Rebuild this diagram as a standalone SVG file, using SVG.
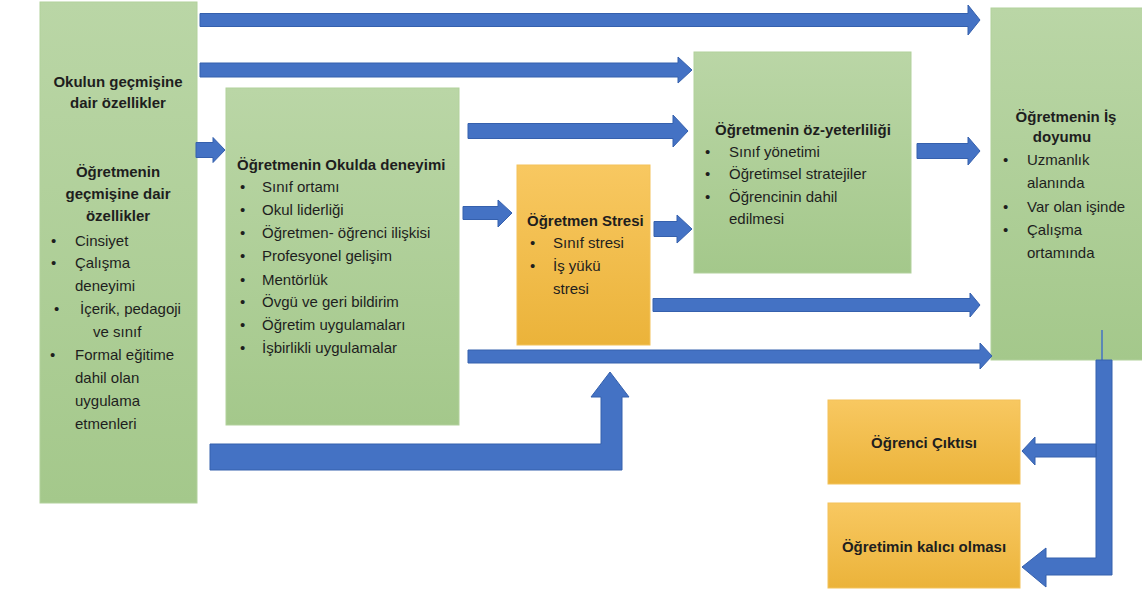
<svg xmlns="http://www.w3.org/2000/svg" width="1142" height="594" viewBox="0 0 1142 594">
  <defs>
    <linearGradient id="green" x1="0" y1="0" x2="0" y2="1">
      <stop offset="0" stop-color="#bad6a6"/>
      <stop offset="1" stop-color="#a4c88b"/>
    </linearGradient>
    <linearGradient id="orange" x1="0" y1="0" x2="0" y2="1">
      <stop offset="0" stop-color="#f8c861"/>
      <stop offset="1" stop-color="#ebb33a"/>
    </linearGradient>
    <style>
      .g { fill: url(#green); stroke: #b2d19c; stroke-width: 1; }
      .o { fill: url(#orange); stroke: #f3c25a; stroke-width: 1; }
      .arr { fill: #4472c4; stroke: #3560ad; stroke-width: 1; stroke-linejoin: miter; }
      text { font-family: "Liberation Sans", Arial, sans-serif; font-size: 15px; fill: #1e1e1e; }
      .t { font-weight: bold; }
      .c { text-anchor: middle; }
    </style>
  </defs>
  <rect width="1142" height="594" fill="#ffffff"/>

  <!-- background characteristics -->
  <g id="node-background">
    <rect class="g" x="40" y="2" width="157" height="501"/>
    <text class="t c" x="118" y="87">Okulun geçmişine</text>
    <text class="t c" x="118" y="108">dair özellikler</text>
    <text class="t c" x="118" y="177">Öğretmenin</text>
    <text class="t c" x="118" y="199">geçmişine dair</text>
    <text class="t c" x="118" y="221">özellikler</text>
    <text x="51" y="246">•</text><text x="75" y="246">Cinsiyet</text>
    <text x="51" y="268">•</text><text x="75" y="268">Çalışma</text>
    <text x="75" y="291">deneyimi</text>
    <text x="54" y="314">•</text><text x="80" y="314">İçerik, pedagoji</text>
    <text x="93" y="337">ve sınıf</text>
    <text x="50" y="360">•</text><text x="75" y="360">Formal eğitime</text>
    <text x="75" y="383">dahil olan</text>
    <text x="75" y="406">uygulama</text>
    <text x="75" y="429">etmenleri</text>
  </g>

  <!-- school experience -->
  <g id="node-experience">
    <rect class="g" x="226" y="88" width="233" height="337"/>
    <text class="t" x="237" y="170">Öğretmenin Okulda deneyimi</text>
    <text x="240" y="192">•</text><text x="262" y="192">Sınıf ortamı</text>
    <text x="240" y="215">•</text><text x="262" y="215">Okul liderliği</text>
    <text x="240" y="238">•</text><text x="262" y="238">Öğretmen- öğrenci ilişkisi</text>
    <text x="240" y="261">•</text><text x="262" y="261">Profesyonel gelişim</text>
    <text x="240" y="285">•</text><text x="262" y="285">Mentörlük</text>
    <text x="240" y="307">•</text><text x="262" y="307">Övgü ve geri bildirim</text>
    <text x="240" y="330">•</text><text x="262" y="330">Öğretim uygulamaları</text>
    <text x="240" y="353">•</text><text x="262" y="353">İşbirlikli uygulamalar</text>
  </g>

  <!-- stress -->
  <g id="node-stress">
    <rect class="o" x="517" y="165" width="133" height="180"/>
    <text class="t" x="527" y="226">Öğretmen Stresi</text>
    <text x="530" y="248">•</text><text x="553" y="248">Sınıf stresi</text>
    <text x="530" y="271">•</text><text x="553" y="271">İş yükü</text>
    <text x="553" y="294">stresi</text>
  </g>

  <!-- self-efficacy -->
  <g id="node-efficacy">
    <rect class="g" x="694" y="52" width="217" height="221"/>
    <text class="t" x="715" y="135">Öğretmenin öz-yeterliliği</text>
    <text x="705" y="157">•</text><text x="729" y="157">Sınıf yönetimi</text>
    <text x="705" y="179">•</text><text x="729" y="179">Öğretimsel stratejiler</text>
    <text x="705" y="202">•</text><text x="729" y="202">Öğrencinin dahil</text>
    <text x="729" y="224">edilmesi</text>
  </g>

  <!-- job satisfaction -->
  <g id="node-satisfaction">
    <rect class="g" x="991" y="8" width="160" height="352"/>
    <text class="t c" x="1066" y="122">Öğretmenin İş</text>
    <text class="t c" x="1062" y="142">doyumu</text>
    <text x="1003" y="165">•</text><text x="1027" y="165">Uzmanlık</text>
    <text x="1027" y="188">alanında</text>
    <text x="1003" y="212">•</text><text x="1027" y="212">Var olan işinde</text>
    <text x="1003" y="235">•</text><text x="1027" y="235">Çalışma</text>
    <text x="1027" y="258">ortamında</text>
  </g>

  <!-- outcomes -->
  <g id="node-outcome">
    <rect class="o" x="828" y="400" width="192" height="84"/>
    <text class="t c" x="924" y="448">Öğrenci Çıktısı</text>
  </g>
  <g id="node-retention">
    <rect class="o" x="828" y="503" width="192" height="85"/>
    <text class="t c" x="924" y="552">Öğretimin kalıcı olması</text>
  </g>

  <!-- connectors, drawn over the boxes -->
  <g id="connectors">
    <polygon class="arr" points="200,13.5 968,13.5 968,5 980,20 968,35 968,26.5 200,26.5"/>
    <polygon class="arr" points="200,63 678,63 678,57 692,70 678,83 678,77 200,77"/>
    <polygon class="arr" points="196,142.5 213,142.5 213,137.5 225,150 213,162.5 213,157.5 196,157.5"/>
    <polygon class="arr" points="468,123.5 673,123.5 673,115 688,131 673,147 673,138.5 468,138.5"/>
    <polygon class="arr" points="463,206.5 498,206.5 498,200 512,213 498,227 498,219.5 463,219.5"/>
    <polygon class="arr" points="654,221.5 677,221.5 677,215 692,229 677,243 677,236.5 654,236.5"/>
    <polygon class="arr" points="917,143.5 968,143.5 968,137 980,151 968,165 968,158.5 917,158.5"/>
    <polygon class="arr" points="653,298.5 970,298.5 970,293 980,305 970,317 970,311.5 653,311.5"/>
    <polygon class="arr" points="468,350 980,350 980,343 992,356 980,369 980,363 468,363"/>
    <polygon class="arr" points="210,444 601,444 601,397 591,397 610,372 629,397 622,397 622,470 210,470"/>
    <line x1="1102" y1="330" x2="1102" y2="360" stroke="#4472c4" stroke-width="1.5"/>
    <polygon class="arr" points="1096,360 1112,360 1112,575 1046,575 1046,587 1022,567 1046,548 1046,558 1096,558"/>
    <polygon class="arr" points="1096,444 1035,444 1035,437 1022,451 1035,465 1035,457 1096,457"/>
  </g>
</svg>
